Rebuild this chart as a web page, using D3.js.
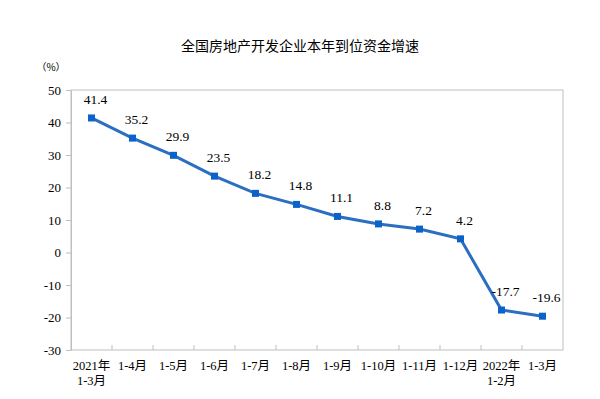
<!DOCTYPE html>
<html>
<head>
<meta charset="utf-8">
<script src="https://cdn.jsdelivr.net/npm/d3@7"></script>
<style>
  body { margin: 0; background: #fff; }
  svg { display: block; }
</style>
</head>
<body>
<svg id="svgRoot" width="600" height="399"></svg>
<script>
// categories: first line / second line of each x label
const labels_top = ["2021年", "1-4月", "1-5月", "1-6月", "1-7月", "1-8月", "1-9月", "1-10月", "1-11月", "1-12月", "2022年", "1-3月"]
const labels_bottom = ["1-3月", "", "", "", "", "", "", "", "", "", "1-2月", ""]
const growth = [41.4, 35.2, 29.9, 23.5, 18.2, 14.8, 11.1, 8.8, 7.2, 4.2, -17.7, -19.6]
const y_ticks = [-30, -20, -10, 0, 10, 20, 30, 40, 50]

const serif = "'Liberation Serif', 'Times New Roman', 'Noto Sans CJK SC', serif"
const axis_color = "#bfbfbf"

let svg = d3.select("#svgRoot")

const margin = { top: 90, left: 71, bottom: 49, right: 37 }
let width = 600
let height = 399

let data = growth.map((v, i) => ({ key: i, value: v }))

let scale_x = d3
  .scaleBand()
  .domain(data.map((d) => d.key))
  .range([margin.left, width - margin.right])

let scale_y = d3
  .scaleLinear()
  .domain([-30, 50])
  .range([height - margin.bottom, margin.top])

// title
svg.append("text")
  .attr("x", 300)
  .attr("y", 51)
  .attr("text-anchor", "middle")
  .attr("font-family", "'Noto Sans CJK SC', sans-serif")
  .attr("font-size", "14px")
  .attr("fill", "#000")
  .text("全国房地产开发企业本年到位资金增速")

// unit
svg.append("text")
  .attr("x", 51)
  .attr("y", 71)
  .attr("text-anchor", "middle")
  .attr("font-family", "'Noto Sans CJK SC', sans-serif")
  .attr("font-size", "10px")
  .attr("fill", "#000")
  .text("（%）")

// frame
svg.append("rect")
  .attr("x", margin.left)
  .attr("y", margin.top)
  .attr("width", width - margin.right - margin.left)
  .attr("height", height - margin.bottom - margin.top)
  .attr("fill", "none")
  .attr("stroke", axis_color)
  .attr("stroke-width", 1)

// y axis
let g_yAxis = svg.append("g")
  .attr("transform", "translate(" + margin.left + ", 0)")
  .call(d3.axisLeft(scale_y).tickValues(y_ticks).tickFormat((d) => String(d)).tickSize(5).tickSizeOuter(0).tickPadding(5))
g_yAxis.select(".domain").attr("stroke", axis_color)
g_yAxis.selectAll(".tick line").attr("stroke", axis_color)
g_yAxis.selectAll(".tick text")
  .attr("font-family", serif)
  .attr("font-size", "13px")
  .attr("fill", "#000")

// x axis: ticks on category boundaries, pointing up
let boundaries = d3.range(1, growth.length).map((i) => scale_x(i))
let g_xAxis = svg.append("g")
  .attr("transform", "translate(0, " + (height - margin.bottom) + ")")
g_xAxis.selectAll(".xtick")
  .data(boundaries)
  .enter()
  .append("line")
  .attr("class", "xtick")
  .attr("x1", (d) => d)
  .attr("x2", (d) => d)
  .attr("y1", 0)
  .attr("y2", -5)
  .attr("stroke", axis_color)

let xlab = g_xAxis.selectAll(".xlab")
  .data(data)
  .enter()
  .append("text")
  .attr("class", "xlab")
  .attr("text-anchor", "middle")
  .attr("font-family", serif)
  .attr("font-size", "12.5px")
  .attr("fill", "#000")
xlab.append("tspan")
  .attr("x", (d) => scale_x(d.key) + scale_x.bandwidth() / 2)
  .attr("y", 20)
  .text((d) => labels_top[d.key])
xlab.append("tspan")
  .attr("x", (d) => scale_x(d.key) + scale_x.bandwidth() / 2)
  .attr("y", 35)
  .text((d) => labels_bottom[d.key])

// line
let cx = (d) => scale_x(d.key) + scale_x.bandwidth() / 2
let line = d3.line().x(cx).y((d) => scale_y(d.value))

svg.append("path")
  .datum(data)
  .attr("d", line)
  .attr("fill", "none")
  .attr("stroke", "#2a6fc0")
  .attr("stroke-width", 3)

svg.selectAll(".marker")
  .data(data)
  .enter()
  .append("rect")
  .attr("class", "marker")
  .attr("x", (d) => cx(d) - 3.5)
  .attr("y", (d) => scale_y(d.value) - 3.5)
  .attr("width", 7)
  .attr("height", 7)
  .attr("fill", "#0b62c8")

svg.selectAll(".vlabel")
  .data(data)
  .enter()
  .append("text")
  .attr("class", "vlabel")
  .attr("x", (d) => cx(d) + 4)
  .attr("y", (d) => scale_y(d.value) - 14)
  .attr("text-anchor", "middle")
  .attr("font-family", serif)
  .attr("font-size", "13.5px")
  .attr("fill", "#000")
  .text((d) => d.value.toFixed(1))
</script>
</body>
</html>
